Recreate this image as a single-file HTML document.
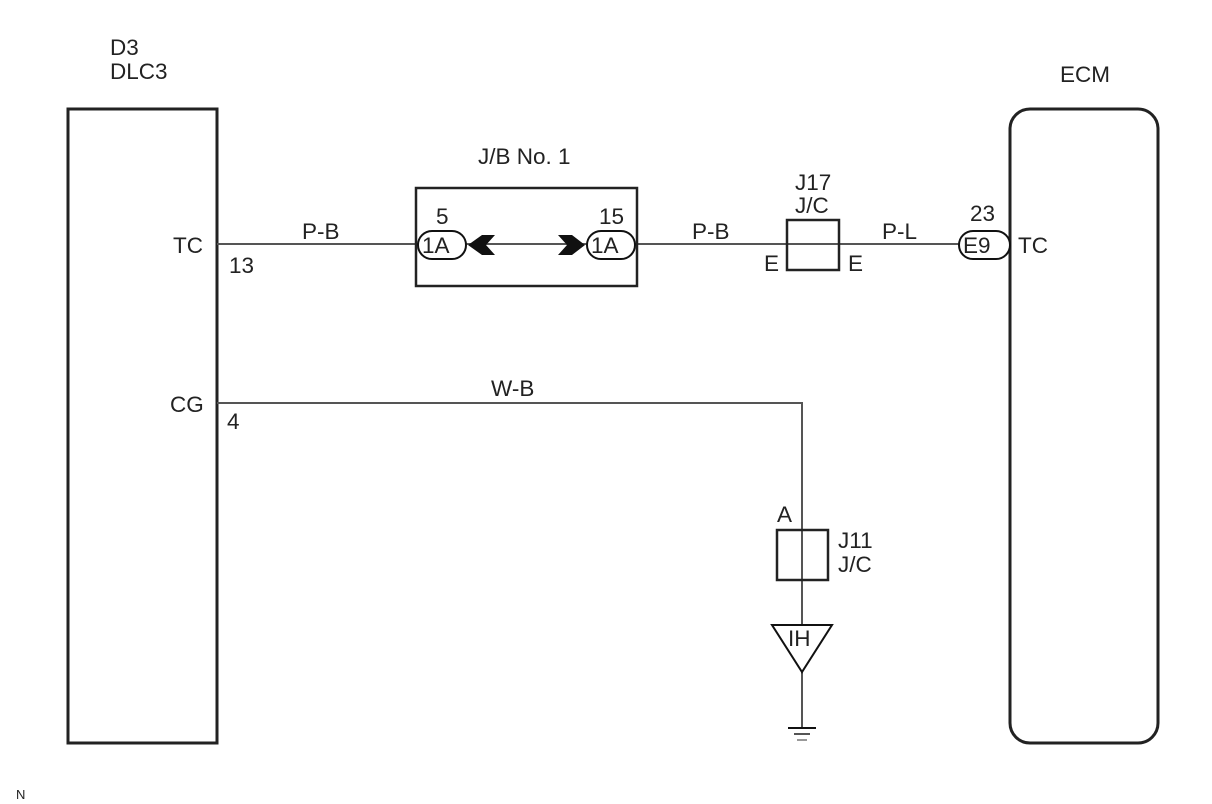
<!DOCTYPE html>
<html><head><meta charset="utf-8"><style>
html,body{margin:0;padding:0;background:#fff;width:1212px;height:804px;overflow:hidden}
svg text{font-family:"Liberation Sans",sans-serif;fill:#222}
</style></head><body>
<svg width="1212" height="804" viewBox="0 0 1212 804" xmlns="http://www.w3.org/2000/svg">
<g font-size="22.5">
<text x="110" y="55">D3</text>
<text x="110" y="79">DLC3</text>
<text x="1060" y="82">ECM</text>
<text x="478" y="164">J/B No. 1</text>
</g>
<rect x="68" y="109" width="149" height="634" fill="none" stroke="#222" stroke-width="3"/>
<rect x="1010" y="109" width="148" height="634" rx="20" ry="20" fill="none" stroke="#222" stroke-width="3"/>
<g stroke="#555" stroke-width="2" fill="none">
<line x1="217" y1="244" x2="420" y2="244"/>
<line x1="466" y1="244" x2="588" y2="244"/>
<line x1="634" y1="244" x2="960" y2="244"/>
<polyline points="217,403 802,403 802,727"/>
</g>
<rect x="416" y="188" width="221" height="98" fill="none" stroke="#222" stroke-width="2.5"/>
<g fill="#fff" stroke="#111" stroke-width="2">
<rect x="418" y="231" width="48" height="28" rx="14"/>
<rect x="587" y="231" width="48" height="28" rx="14"/>
<rect x="959" y="231" width="51" height="28" rx="14"/>
</g>
<path d="M468,245 L482,235 L495,235 L486,245 L495,255 L482,255 Z" fill="#111"/>
<path d="M585,245 L572,235 L558,235 L567,245 L558,255 L572,255 Z" fill="#111"/>
<rect x="787" y="220" width="52" height="50" fill="none" stroke="#222" stroke-width="2.5"/>
<rect x="777" y="530" width="51" height="50" fill="none" stroke="#222" stroke-width="2.5"/>
<path d="M772,625 L832,625 L802,672 Z" fill="#fff" stroke="#111" stroke-width="2"/>
<line x1="788" y1="728" x2="816" y2="728" stroke="#111" stroke-width="2"/>
<line x1="794" y1="734" x2="810" y2="734" stroke="#555" stroke-width="2"/>
<line x1="797" y1="740" x2="807" y2="740" stroke="#999" stroke-width="2"/>
<g font-size="22.5">
<text x="173" y="253">TC</text>
<text x="229" y="273">13</text>
<text x="302" y="239">P-B</text>
<text x="170" y="412">CG</text>
<text x="227" y="429">4</text>
<text x="491" y="396">W-B</text>
<text x="436" y="224">5</text>
<text x="599" y="224">15</text>
<text x="422" y="253">1A</text>
<text x="591" y="253">1A</text>
<text x="692" y="239">P-B</text>
<text x="795" y="190">J17</text>
<text x="795" y="213">J/C</text>
<text x="764" y="271">E</text>
<text x="848" y="271">E</text>
<text x="882" y="239">P-L</text>
<text x="970" y="221">23</text>
<text x="963" y="253">E9</text>
<text x="1018" y="253">TC</text>
<text x="777" y="522">A</text>
<text x="838" y="548">J11</text>
<text x="838" y="572">J/C</text>
<text x="788" y="646">IH</text>
</g>
<text x="16" y="799" font-size="13">N</text>
</svg>
</body></html>
